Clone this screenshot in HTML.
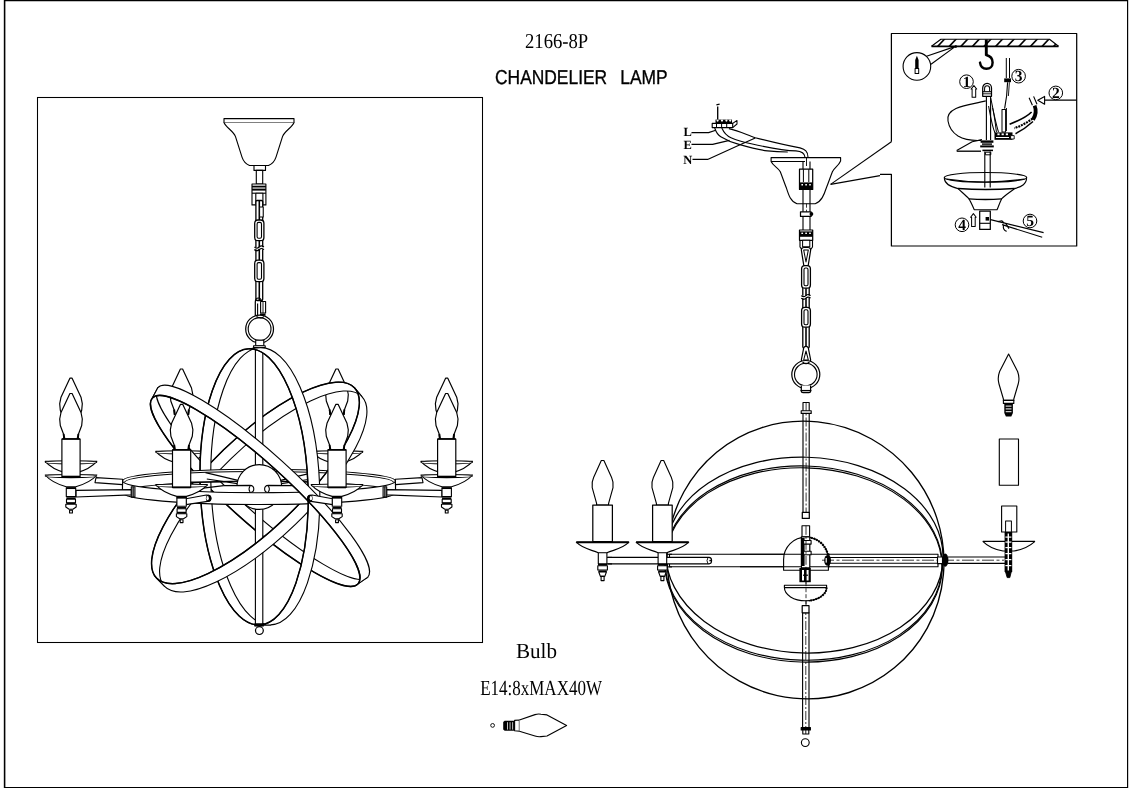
<!DOCTYPE html>
<html lang="en"><head><meta charset="utf-8"><title>2166-8P CHANDELIER LAMP</title>
<style>
html,body{margin:0;padding:0;background:#fff;}
body{width:1131px;height:788px;overflow:hidden;}
svg{display:block;will-change:transform;}
text{text-rendering:geometricPrecision;}
</style></head><body>
<svg width="1131" height="788" viewBox="0 0 1131 788" stroke-linejoin="round" stroke-linecap="butt">
<defs>
<clipPath id="c1"><polygon points="940.9,39.3 1049.5,39.3 1058.5,46.3 931.5,46.3"/></clipPath>
</defs>
<rect x="0" y="0" width="1131" height="788" fill="#fff"/>
<!-- frame -->
<path d="M4.6 0L4.6 788" stroke="#000" stroke-width="1.57" fill="none" />
<path d="M4 0.5L1128 0.5" stroke="#000" stroke-width="1.34" fill="none" />
<path d="M1127.6 0L1127.6 788" stroke="#000" stroke-width="1.18" fill="none" />
<path d="M4 787.5L1128 787.5" stroke="#000" stroke-width="1.12" fill="none" />
<rect x="37.5" y="97.5" width="445" height="545" fill="none" stroke="#000" stroke-width="1.06" stroke-linejoin="miter"/>
<!-- titles -->
<text transform="translate(525 47.9) scale(0.88 1)" font-family="'Liberation Serif',serif" font-size="21.2" font-weight="normal" word-spacing="0" letter-spacing="0" fill="#000" stroke="#000" stroke-width="0">2166-8P</text>
<text transform="translate(495 83.9) scale(0.87 1)" font-family="'Liberation Sans',sans-serif" font-size="20" font-weight="normal" word-spacing="9.5" letter-spacing="0" fill="#000" stroke="#000" stroke-width="0.35">CHANDELIER LAMP</text>
<text transform="translate(516 657.9) scale(0.98 1)" font-family="'Liberation Serif',serif" font-size="21.5" font-weight="normal" word-spacing="0" letter-spacing="0" fill="#000" stroke="#000" stroke-width="0">Bulb</text>
<text transform="translate(480.2 695.3) scale(0.79 1)" font-family="'Liberation Serif',serif" font-size="21.5" font-weight="normal" word-spacing="0" letter-spacing="0" fill="#000" stroke="#000" stroke-width="0">E14:8xMAX40W</text>
<!-- left drawing: perspective view -->
<path d="M224 118.6L294 118.6L294 122.5L224 122.5Z" fill="#fff" stroke="#000" stroke-width="1.12" />
<path d="M224 122.5 C226 127.6 233 130.6 235.5 136.6 L242 157.1 C243.5 161.6 246 164.1 249.5 165.5 L268.5 165.5 C272 164.1 274.5 161.6 276 157.1 L282.5 136.6 C285 130.6 292 127.6 294 122.5" fill="#fff" stroke="#000" stroke-width="1.12" />
<rect x="254" y="165.5" width="11.5" height="4.9" fill="#fff" stroke="#000" stroke-width="1.12" />
<rect x="256.3" y="170.4" width="6.4" height="13.6" fill="#fff" stroke="#000" stroke-width="1.12" />
<rect x="252" y="184" width="13.9" height="20.9" fill="#fff" stroke="#000" stroke-width="1.12" />
<path d="M252 186.6L265.9 186.6" stroke="#000" stroke-width="1.79" fill="none" />
<path d="M252 189.6L265.9 189.6" stroke="#000" stroke-width="2.02" fill="none" />
<path d="M252 193.2L265.9 193.2" stroke="#000" stroke-width="1.12" fill="none" />
<rect x="255.8" y="193.2" width="7.1" height="11.7" fill="#fff" stroke="#000" stroke-width="1.12" />
<rect x="255.9" y="200.5" width="6.8" height="22" rx="1.2" ry="1.2" fill="#fff" stroke="#000" stroke-width="1.3"/>
<path d="M259.3 200.5L259.3 222.5" stroke="#000" stroke-width="1.57" fill="none" />
<rect x="259.6" y="207" width="3.6" height="10" fill="#fff" stroke="#000" stroke-width="1.01" />
<rect x="255.9" y="238.5" width="6.8" height="24" rx="1.2" ry="1.2" fill="#fff" stroke="#000" stroke-width="1.3"/>
<path d="M259.3 238.5L259.3 262.5" stroke="#000" stroke-width="1.57" fill="none" />
<rect x="255.9" y="279.5" width="6.8" height="21" rx="1.2" ry="1.2" fill="#fff" stroke="#000" stroke-width="1.3"/>
<path d="M259.3 279.5L259.3 300.5" stroke="#000" stroke-width="1.57" fill="none" />
<rect x="254.7" y="220" width="9.2" height="20.6" rx="3.2" ry="3.2" fill="#fff" stroke="#000" stroke-width="1.3"/>
<rect x="257.1" y="222.4" width="4.4" height="15.8" rx="1.5" ry="1.5" fill="#fff" stroke="#000" stroke-width="1.1"/>
<rect x="254.7" y="260.2" width="9.2" height="21.4" rx="3.2" ry="3.2" fill="#fff" stroke="#000" stroke-width="1.3"/>
<rect x="257.1" y="262.6" width="4.4" height="16.6" rx="1.5" ry="1.5" fill="#fff" stroke="#000" stroke-width="1.1"/>
<path d="M254.5 249.5 q2.5 2.2 4.6 0 q2.5 -2.2 4.8 0" fill="none" stroke="#000" stroke-width="1.12" style="paint-order:stroke" />
<rect x="253.8" y="247.2" width="11" height="2" fill="#fff"/>
<path d="M254.5 247 q2.5 2.2 4.6 0 q2.5 -2.2 4.8 0" fill="none" stroke="#000" stroke-width="1.12" />
<path d="M254.5 249.6 q2.5 2.2 4.6 0 q2.5 -2.2 4.8 0" fill="none" stroke="#000" stroke-width="1.12" />
<path d="M255.3 318 L255.3 302 Q255.3 298 258.5 298 Q261 298 261.3 301" fill="none" stroke="#000" stroke-width="1.23" />
<path d="M257.6 318 L257.6 303.5" fill="none" stroke="#000" stroke-width="1.12" />
<rect x="260.6" y="301.5" width="5" height="11.5" fill="#fff" stroke="#000" stroke-width="1.12" />
<path d="M263 301.5L263 313" stroke="#000" stroke-width="0.9" fill="none" />
<path d="M260 314.6L265.5 314.6" stroke="#000" stroke-width="2.02" fill="none" />
<circle cx="259.6" cy="329" r="13.9" fill="#fff" stroke="#000" stroke-width="1.23"/>
<circle cx="259.6" cy="329" r="11.4" fill="#fff" stroke="#000" stroke-width="1.12"/>
<path d="M256.5 316.4 Q260 319.5 264 316.6" fill="none" stroke="#000" stroke-width="1.12" />
<rect x="255.7" y="340.2" width="8.1" height="5.5" fill="#fff" stroke="#000" stroke-width="1.12" />
<rect x="253.6" y="345.7" width="11.6" height="1.9" fill="#fff" stroke="#000" stroke-width="1.12" />
<path d="M155.7 451.3 C160.2 456.7 168.5 460.7 176.7 463.1 L186.3 463.1 C194.5 460.7 202.8 456.7 207.3 451.3 Z" fill="#fff" stroke="#000" stroke-width="1.12" />
<ellipse cx="181.5" cy="452.3" rx="25.8" ry="1.6" fill="#fff" stroke="#000" stroke-width="1.05"/>
<path d="M180.4 369L171.5 388L170.2 394.5L170.8 401L174 409.5L174.3 414.5L188.7 414.5L189 409.5L192.2 401L192.8 394.5L191.5 388L182.6 369Z" fill="#fff" stroke="#000" stroke-width="1.18" />
<path d="M174.1 409.5 L174.9 414.5 M188.9 409.5 L188.1 414.5" fill="none" stroke="#000" stroke-width="1.9" />
<path d="M311.2 451.3 C315.7 456.7 324 460.7 332.2 463.1 L341.8 463.1 C350 460.7 358.3 456.7 362.8 451.3 Z" fill="#fff" stroke="#000" stroke-width="1.12" />
<ellipse cx="337" cy="452.3" rx="25.8" ry="1.6" fill="#fff" stroke="#000" stroke-width="1.05"/>
<path d="M335.9 369L327 388L325.7 394.5L326.3 401L329.5 409.5L329.8 414.5L344.2 414.5L344.5 409.5L347.7 401L348.3 394.5L347 388L338.1 369Z" fill="#fff" stroke="#000" stroke-width="1.18" />
<path d="M329.6 409.5 L330.4 414.5 M344.4 409.5 L343.6 414.5" fill="none" stroke="#000" stroke-width="1.9" />
<path d="M358.04 583.87A138.6 29.5 42.1 0 1 235.42 512.84A138.6 29.5 42.1 0 1 152.36 398.03L157.93 387.55A141.4 28.6 42.1 0 0 243.68 503.57A141.4 28.6 42.1 0 0 367.77 577.15Z" fill="#fff" stroke="#000" stroke-width="1.12" />
<path d="M358.04 583.87A138.6 29.5 42.1 0 1 235.42 512.84A138.6 29.5 42.1 0 1 152.36 398.03" fill="none" stroke="#000" stroke-width="1.46" />
<path d="M354.38 387.7A137.3 45.9 -43.9 0 0 223.62 449.83A137.3 45.9 -43.9 0 0 156.52 578.1L164.61 586.43A136.9 46 -43.9 0 1 231.35 458.35A136.9 46 -43.9 0 1 361.89 396.57Z" fill="#fff" stroke="#000" stroke-width="1.12" />
<path d="M354.38 387.7A137.3 45.9 -43.9 0 0 223.62 449.83A137.3 45.9 -43.9 0 0 156.52 578.1" fill="none" stroke="#000" stroke-width="1.46" />
<path d="M259.41 625A138.2 53.9 87.8 0 1 200.24 488.97A138.2 53.9 87.8 0 1 248.79 348.8L259.98 347.7A138.7 54.3 87.8 0 0 211.04 488.38A138.7 54.3 87.8 0 0 270.62 624.9Z" fill="#fff" stroke="#000" stroke-width="1.12" />
<path d="M259.41 625A138.2 53.9 87.8 0 1 200.24 488.97A138.2 53.9 87.8 0 1 248.79 348.8" fill="none" stroke="#000" stroke-width="1.46" />
<path d="M122.5 481 A136.5 11.7 0 0 1 395.5 481 L395.5 492.8 A136.5 11.7 0 0 0 122.5 492.8 Z" fill="#fff" stroke="#000" stroke-width="1.12" />
<path d="M124.5 482.6 A134.5 11.1 0 0 1 393.5 482.6" fill="none" stroke="#000" stroke-width="1.01" />
<rect x="255.4" y="347.6" width="7.4" height="277.4" fill="#fff" stroke="#000" stroke-width="1.12" />
<path d="M238 480.4 L205.5 472.6 M237.4 483.6 L206.8 479 M226.7 482 L191 482" fill="none" stroke="#000" stroke-width="1.12" />
<path d="M280.6 480.4 L313 472.6 M281.2 483.6 L311.8 479 M292 482 L327 482" fill="none" stroke="#000" stroke-width="1.12" />
<circle cx="259.3" cy="487" r="22.4" fill="#fff" stroke="#000" stroke-width="1.23"/>
<path d="M223.8 485.6 L250 485.4 Q253.8 485.6 253.8 489 Q253.8 492.4 250 492.5 L223.8 492.5" fill="#fff" stroke="#000" stroke-width="1.12" />
<path d="M294.6 485.6 L268.4 485.4 Q264.6 485.6 264.6 489 Q264.6 492.4 268.4 492.5 L294.6 492.5" fill="#fff" stroke="#000" stroke-width="1.12" />
<path d="M250 486 Q248 489 250 492" fill="none" stroke="#000" stroke-width="1.01" />
<path d="M268.4 486 Q270.4 489 268.4 492" fill="none" stroke="#000" stroke-width="1.01" />
<path d="M223.8 485.6 L201 488.4 M223.8 492.5 L210 493" fill="none" stroke="#000" stroke-width="1.12" />
<path d="M294.6 485.6 L317 488.4 M294.6 492.5 L308 493" fill="none" stroke="#000" stroke-width="1.12" />
<path d="M361.89 396.57A136.9 46 -43.9 0 1 295.15 524.65A136.9 46 -43.9 0 1 164.61 586.43L156.52 578.1A137.3 45.9 -43.9 0 0 287.28 515.97A137.3 45.9 -43.9 0 0 354.38 387.7Z" fill="#fff" stroke="#000" stroke-width="1.12" />
<path d="M156.52 578.1A137.3 45.9 -43.9 0 0 287.28 515.97A137.3 45.9 -43.9 0 0 354.38 387.7" fill="none" stroke="#000" stroke-width="1.46" />
<path d="M122.5 481 A136.5 11.7 0 0 0 395.5 481 L395.5 492.8 A136.5 11.7 0 0 1 122.5 492.8 Z" fill="#fff" stroke="#000" stroke-width="1.12" />
<path d="M270.62 624.9A138.7 54.3 87.8 0 0 319.56 484.22A138.7 54.3 87.8 0 0 259.98 347.7L248.79 348.8A138.2 53.9 87.8 0 1 307.96 484.83A138.2 53.9 87.8 0 1 259.41 625Z" fill="#fff" stroke="#000" stroke-width="1.12" />
<path d="M248.79 348.8A138.2 53.9 87.8 0 1 307.96 484.83A138.2 53.9 87.8 0 1 259.41 625" fill="none" stroke="#000" stroke-width="1.46" />
<path d="M367.77 577.15A141.4 28.6 42.1 0 0 282.02 461.13A141.4 28.6 42.1 0 0 157.93 387.55L152.36 398.03A138.6 29.5 42.1 0 1 274.98 469.06A138.6 29.5 42.1 0 1 358.04 583.87Z" fill="#fff" stroke="#000" stroke-width="1.12" />
<path d="M152.36 398.03A138.6 29.5 42.1 0 1 274.98 469.06A138.6 29.5 42.1 0 1 358.04 583.87" fill="none" stroke="#000" stroke-width="1.46" />
<rect x="254.6" y="623.6" width="9" height="2.6" fill="#000" stroke="#000" stroke-width="0.67" />
<circle cx="259.4" cy="630.6" r="3.9" fill="#fff" stroke="#000" stroke-width="1.23"/>
<path d="M96 477.6 L122.6 479.2 L122.6 484.6 L95 482.6 Z" fill="#fff" stroke="#000" stroke-width="1.12" />
<path d="M76 490.4 L131.4 489.6 L131.4 494.9 L76 497 Z" fill="#fff" stroke="#000" stroke-width="1.12" />
<rect x="131.3" y="486.7" width="3.6" height="10.4" fill="#fff" stroke="#000" stroke-width="1.12" />
<path d="M133.1 487L133.1 497" stroke="#000" stroke-width="1.34" fill="none" />
<path d="M422 477.6 L395.4 479.2 L395.4 484.6 L423 482.6 Z" fill="#fff" stroke="#000" stroke-width="1.12" />
<path d="M442 490.4 L386.6 489.6 L386.6 494.9 L442 497 Z" fill="#fff" stroke="#000" stroke-width="1.12" />
<rect x="383.1" y="486.7" width="3.6" height="10.4" fill="#fff" stroke="#000" stroke-width="1.12" />
<path d="M384.9 487L384.9 497" stroke="#000" stroke-width="1.34" fill="none" />
<path d="M186 498.8 L206.4 495 Q211 495 211 498.3 Q211 501.4 207.6 501.4 L186 504.6 Z" fill="#fff" stroke="#000" stroke-width="1.12" />
<ellipse cx="208.6" cy="498.2" rx="2.7" ry="3.5" fill="#000"/>
<ellipse cx="207.6" cy="498.2" rx="1.2" ry="2.1" fill="#fff"/>
<path d="M332.5 498.8 L312.1 495 Q307.5 495 307.5 498.3 Q307.5 501.4 310.9 501.4 L332.5 504.6 Z" fill="#fff" stroke="#000" stroke-width="1.12" />
<ellipse cx="309.9" cy="498.2" rx="2.7" ry="3.5" fill="#000"/>
<ellipse cx="310.9" cy="498.2" rx="1.2" ry="2.1" fill="#fff"/>
<path d="M45.2 461.3 C49.7 466.7 58 470.7 66.2 473.1 L75.8 473.1 C84 470.7 92.3 466.7 96.8 461.3 Z" fill="#fff" stroke="#000" stroke-width="1.12" />
<ellipse cx="71" cy="462.3" rx="25.8" ry="1.6" fill="#fff" stroke="#000" stroke-width="1.05"/>
<path d="M69.9 378.2L61 397.2L59.7 403.7L60.3 410.2L63.5 418.7L63.8 423.7L78.2 423.7L78.5 418.7L81.7 410.2L82.3 403.7L81 397.2L72.1 378.2Z" fill="#fff" stroke="#000" stroke-width="1.18" />
<path d="M63.6 418.7 L64.4 423.7 M78.4 418.7 L77.6 423.7" fill="none" stroke="#000" stroke-width="1.9" />
<rect x="66.3" y="487.7" width="9.4" height="8.9" fill="#fff" stroke="#000" stroke-width="1.12" />
<path d="M66.1 488.2L75.9 488.2" stroke="#000" stroke-width="1.68" fill="none" />
<path d="M66.4 498.2L75.6 498.2" stroke="#000" stroke-width="1.68" fill="none" />
<rect x="66.5" y="499.2" width="9" height="3.6" fill="#fff" stroke="#000" stroke-width="1.12" />
<path d="M66.4 503.4L75.6 503.4" stroke="#000" stroke-width="1.46" fill="none" />
<path d="M65.8 504.2L76.2 504.2L76.2 507L72.9 509.2L69.1 509.2L65.8 507Z" fill="#fff" stroke="#000" stroke-width="1.12" />
<rect x="69.6" y="510.2" width="2.8" height="2.8" fill="#fff" stroke="#000" stroke-width="1.12" />
<path d="M45.2 475 C49.7 480.4 58 484.4 66.2 486.8 L75.8 486.8 C84 484.4 92.3 480.4 96.8 475 Z" fill="#fff" stroke="#000" stroke-width="1.12" />
<ellipse cx="71" cy="476" rx="25.8" ry="1.6" fill="#fff" stroke="#000" stroke-width="1.05"/>
<path d="M69.9 393.5L61 412.5L59.7 419L60.3 425.5L63.5 434L63.8 439L78.2 439L78.5 434L81.7 425.5L82.3 419L81 412.5L72.1 393.5Z" fill="#fff" stroke="#000" stroke-width="1.18" />
<path d="M63.6 434 L64.4 439 M78.4 434 L77.6 439" fill="none" stroke="#000" stroke-width="1.9" />
<rect x="61.9" y="439" width="18.2" height="37.6" fill="#fff" stroke="#000" stroke-width="1.18" />
<path d="M61.9 439L80.1 439" stroke="#000" stroke-width="1.57" fill="none" />
<path d="M61.9 476.6L80.1 476.6" stroke="#000" stroke-width="1.79" fill="none" />
<path d="M420.9 461.3 C425.4 466.7 433.7 470.7 441.9 473.1 L451.5 473.1 C459.7 470.7 468 466.7 472.5 461.3 Z" fill="#fff" stroke="#000" stroke-width="1.12" />
<ellipse cx="446.7" cy="462.3" rx="25.8" ry="1.6" fill="#fff" stroke="#000" stroke-width="1.05"/>
<path d="M445.6 378.2L436.7 397.2L435.4 403.7L436 410.2L439.2 418.7L439.5 423.7L453.9 423.7L454.2 418.7L457.4 410.2L458 403.7L456.7 397.2L447.8 378.2Z" fill="#fff" stroke="#000" stroke-width="1.18" />
<path d="M439.3 418.7 L440.1 423.7 M454.1 418.7 L453.3 423.7" fill="none" stroke="#000" stroke-width="1.9" />
<rect x="442" y="487.7" width="9.4" height="8.9" fill="#fff" stroke="#000" stroke-width="1.12" />
<path d="M441.8 488.2L451.6 488.2" stroke="#000" stroke-width="1.68" fill="none" />
<path d="M442.1 498.2L451.3 498.2" stroke="#000" stroke-width="1.68" fill="none" />
<rect x="442.2" y="499.2" width="9" height="3.6" fill="#fff" stroke="#000" stroke-width="1.12" />
<path d="M442.1 503.4L451.3 503.4" stroke="#000" stroke-width="1.46" fill="none" />
<path d="M441.5 504.2L451.9 504.2L451.9 507L448.6 509.2L444.8 509.2L441.5 507Z" fill="#fff" stroke="#000" stroke-width="1.12" />
<rect x="445.3" y="510.2" width="2.8" height="2.8" fill="#fff" stroke="#000" stroke-width="1.12" />
<path d="M420.9 475 C425.4 480.4 433.7 484.4 441.9 486.8 L451.5 486.8 C459.7 484.4 468 480.4 472.5 475 Z" fill="#fff" stroke="#000" stroke-width="1.12" />
<ellipse cx="446.7" cy="476" rx="25.8" ry="1.6" fill="#fff" stroke="#000" stroke-width="1.05"/>
<path d="M445.6 393.5L436.7 412.5L435.4 419L436 425.5L439.2 434L439.5 439L453.9 439L454.2 434L457.4 425.5L458 419L456.7 412.5L447.8 393.5Z" fill="#fff" stroke="#000" stroke-width="1.18" />
<path d="M439.3 434 L440.1 439 M454.1 434 L453.3 439" fill="none" stroke="#000" stroke-width="1.9" />
<rect x="437.6" y="439" width="18.2" height="37.6" fill="#fff" stroke="#000" stroke-width="1.18" />
<path d="M437.6 439L455.8 439" stroke="#000" stroke-width="1.57" fill="none" />
<path d="M437.6 476.6L455.8 476.6" stroke="#000" stroke-width="1.79" fill="none" />
<rect x="176.9" y="497.3" width="9.4" height="8.9" fill="#fff" stroke="#000" stroke-width="1.12" />
<path d="M176.7 497.8L186.5 497.8" stroke="#000" stroke-width="1.68" fill="none" />
<path d="M177 507.8L186.2 507.8" stroke="#000" stroke-width="1.68" fill="none" />
<rect x="177.1" y="508.8" width="9" height="3.6" fill="#fff" stroke="#000" stroke-width="1.12" />
<path d="M177 513L186.2 513" stroke="#000" stroke-width="1.46" fill="none" />
<path d="M176.4 513.8L186.8 513.8L186.8 516.6L183.5 518.8L179.7 518.8L176.4 516.6Z" fill="#fff" stroke="#000" stroke-width="1.12" />
<rect x="180.2" y="519.8" width="2.8" height="2.8" fill="#fff" stroke="#000" stroke-width="1.12" />
<path d="M155.8 484.6 C160.3 490 168.6 494 176.8 496.4 L186.4 496.4 C194.6 494 202.9 490 207.4 484.6 Z" fill="#fff" stroke="#000" stroke-width="1.12" />
<ellipse cx="181.6" cy="485.6" rx="25.8" ry="1.6" fill="#fff" stroke="#000" stroke-width="1.05"/>
<path d="M180.5 404.3L171.6 423.3L170.3 429.8L170.9 436.3L174.1 444.8L174.4 449.8L188.8 449.8L189.1 444.8L192.3 436.3L192.9 429.8L191.6 423.3L182.7 404.3Z" fill="#fff" stroke="#000" stroke-width="1.18" />
<path d="M174.2 444.8 L175 449.8 M189 444.8 L188.2 449.8" fill="none" stroke="#000" stroke-width="1.9" />
<rect x="172.5" y="449.8" width="18.2" height="37.6" fill="#fff" stroke="#000" stroke-width="1.18" />
<path d="M172.5 449.8L190.7 449.8" stroke="#000" stroke-width="1.57" fill="none" />
<path d="M172.5 487.4L190.7 487.4" stroke="#000" stroke-width="1.79" fill="none" />
<rect x="332.3" y="497.3" width="9.4" height="8.9" fill="#fff" stroke="#000" stroke-width="1.12" />
<path d="M332.1 497.8L341.9 497.8" stroke="#000" stroke-width="1.68" fill="none" />
<path d="M332.4 507.8L341.6 507.8" stroke="#000" stroke-width="1.68" fill="none" />
<rect x="332.5" y="508.8" width="9" height="3.6" fill="#fff" stroke="#000" stroke-width="1.12" />
<path d="M332.4 513L341.6 513" stroke="#000" stroke-width="1.46" fill="none" />
<path d="M331.8 513.8L342.2 513.8L342.2 516.6L338.9 518.8L335.1 518.8L331.8 516.6Z" fill="#fff" stroke="#000" stroke-width="1.12" />
<rect x="335.6" y="519.8" width="2.8" height="2.8" fill="#fff" stroke="#000" stroke-width="1.12" />
<path d="M311.2 484.6 C315.7 490 324 494 332.2 496.4 L341.8 496.4 C350 494 358.3 490 362.8 484.6 Z" fill="#fff" stroke="#000" stroke-width="1.12" />
<ellipse cx="337" cy="485.6" rx="25.8" ry="1.6" fill="#fff" stroke="#000" stroke-width="1.05"/>
<path d="M335.9 404.3L327 423.3L325.7 429.8L326.3 436.3L329.5 444.8L329.8 449.8L344.2 449.8L344.5 444.8L347.7 436.3L348.3 429.8L347 423.3L338.1 404.3Z" fill="#fff" stroke="#000" stroke-width="1.18" />
<path d="M329.6 444.8 L330.4 449.8 M344.4 444.8 L343.6 449.8" fill="none" stroke="#000" stroke-width="1.9" />
<rect x="327.9" y="449.8" width="18.2" height="37.6" fill="#fff" stroke="#000" stroke-width="1.18" />
<path d="M327.9 449.8L346.1 449.8" stroke="#000" stroke-width="1.57" fill="none" />
<path d="M327.9 487.4L346.1 487.4" stroke="#000" stroke-width="1.79" fill="none" />
<!-- right drawing: assembly / side view -->
<path d="M728.9 128.6 C740 131 748 135.5 755.3 137.7 C772 142 790 146 800 147.9 C805 149.5 808 151 808 157.3" fill="none" stroke="#000" stroke-width="1.12" />
<path d="M721.8 128 C724 133 727 136 731 137.7 C738 140.8 745 142.5 751.2 143.8 C768 147.5 785 150.6 795.9 150.9 C801 151.2 804.6 152.6 805 157.3" fill="none" stroke="#000" stroke-width="1.12" />
<path d="M714.7 128 C716 132 718 135 720.8 136.7 C727 140.5 733 142.8 739 144.4 C750 147.6 760 150 767.5 150.9 C775 151.8 782 152 787.8 152" fill="none" stroke="#000" stroke-width="1.12" />
<rect x="712.2" y="123.4" width="20.5" height="4.2" fill="#fff" stroke="#000" stroke-width="1.12" />
<path d="M716.5 123.4L716.5 127.6" stroke="#000" stroke-width="1.01" fill="none" />
<path d="M721.6 123.4L721.6 127.6" stroke="#000" stroke-width="1.01" fill="none" />
<path d="M726.7 123.4L726.7 127.6" stroke="#000" stroke-width="1.01" fill="none" />
<path d="M732.7 123.4 L737 120.5 L737 124 L732.7 127.6" fill="none" stroke="#000" stroke-width="1.01" />
<path d="M715.5 119.6h16.5v3.6h-16.5z" fill="#000"/>
<circle cx="717.6" cy="120.6" r="1.1" fill="#fff"/>
<circle cx="722" cy="120.6" r="1.1" fill="#fff"/>
<circle cx="726.4" cy="120.6" r="1.1" fill="#fff"/>
<circle cx="730.2" cy="120.6" r="1.1" fill="#fff"/>
<path d="M717.7 106.5L717.7 119.5" stroke="#000" stroke-width="1.34" fill="none" />
<path d="M716.4 104.8L719.6 104.2" stroke="#000" stroke-width="1.34" fill="none" />
<text x="683.6" y="135.8" font-family="'Liberation Serif',serif" font-size="12.5" font-weight="bold" text-anchor="start" >L</text>
<text x="683.6" y="149" font-family="'Liberation Serif',serif" font-size="12.5" font-weight="bold" text-anchor="start" >E</text>
<text x="683.2" y="164" font-family="'Liberation Serif',serif" font-size="12.5" font-weight="bold" text-anchor="start" >N</text>
<path d="M691.5 132.6 L708.6 132.6 L715.7 130.2" fill="none" stroke="#000" stroke-width="1.12" />
<path d="M691.5 144.4 L712.6 144.4 L729.5 140.4" fill="none" stroke="#000" stroke-width="1.12" />
<path d="M692.5 159.4 L707.6 159.4 L740 144.8 L755.3 138" fill="none" stroke="#000" stroke-width="1.12" />
<path d="M771.1 157.6 L840.6 157.6 L840.6 161 C838.5 166 834 168 832.4 171.8 C830 178 828.3 183 826.3 188 C824 195 821.5 201.5 815.2 203.7 L797 203.7 C790.6 201.5 788.6 195 786.4 188 C784.4 183 782.7 178 780.3 171.8 C778.7 168 773 166 771.1 161.5 Z" fill="#fff" stroke="#000" stroke-width="1.12" />
<path d="M771.1 161.5L805 161.5" stroke="#000" stroke-width="1.12" fill="none" />
<path d="M830.6 184.4L891.4 141.8" stroke="#000" stroke-width="1.12" fill="none" />
<path d="M830.6 184.4L880 175.6" stroke="#000" stroke-width="1.12" fill="none" />
<path d="M803 161.5L803 230" stroke="#000" stroke-width="1.12" fill="none" />
<path d="M810 161.5L810 230" stroke="#000" stroke-width="1.12" fill="none" />
<path d="M806.5 157.6L806.5 166" stroke="#000" stroke-width="0.9" fill="none" />
<rect x="799.5" y="169.2" width="13.2" height="20.3" fill="#fff" stroke="#000" stroke-width="1.23" />
<path d="M803.4 169.2L803.4 182" stroke="#000" stroke-width="1.01" fill="none" />
<path d="M808.8 169.2L808.8 182" stroke="#000" stroke-width="1.01" fill="none" />
<rect x="799.5" y="182.4" width="13.2" height="7.1" fill="#000"/>
<rect x="801.4" y="184" width="1.6" height="1.5" fill="#fff"/>
<rect x="805.3" y="184" width="1.6" height="1.5" fill="#fff"/>
<rect x="809.2" y="184" width="1.6" height="1.5" fill="#fff"/>
<path d="M799.5 186.6L812.7 186.6" stroke="#000" stroke-width="0.78" fill="none" stroke="#fff"/>
<path d="M806.5 203.7L806.5 212" stroke="#000" stroke-width="0.78" fill="none" stroke-dasharray="4 2"/>
<rect x="800.5" y="211.8" width="10.6" height="4.6" fill="#fff" stroke="#000" stroke-width="1.23" />
<circle cx="811.4" cy="214" r="1.9" fill="#000"/>
<rect x="799.5" y="230" width="13.2" height="10.3" fill="#fff" stroke="#000" stroke-width="1.23" />
<rect x="799.5" y="231.4" width="13.2" height="5.4" fill="#000"/>
<rect x="801.35" y="232.6" width="1.7" height="1.4" fill="#fff"/>
<rect x="805.25" y="232.6" width="1.7" height="1.4" fill="#fff"/>
<rect x="809.15" y="232.6" width="1.7" height="1.4" fill="#fff"/>
<path d="M799.5 234.9L812.7 234.9" stroke="#000" stroke-width="0.78" fill="none" stroke="#fff"/>
<path d="M800 240.3 L800 247 L802.5 250.5 M812.5 240.3 L812.5 247 L810 250.5" fill="none" stroke="#000" stroke-width="1.12" />
<rect x="802.6" y="240.3" width="7.2" height="6.5" fill="#fff" stroke="#000" stroke-width="1.01" />
<rect x="802.8" y="286" width="6.4" height="23" rx="1.2" ry="1.2" fill="#fff" stroke="#000" stroke-width="1.3"/>
<path d="M806 286L806 309" stroke="#000" stroke-width="1.57" fill="none" />
<rect x="802.8" y="325.5" width="6.4" height="22.5" rx="1.2" ry="1.2" fill="#fff" stroke="#000" stroke-width="1.3"/>
<path d="M806 325.5L806 348" stroke="#000" stroke-width="1.57" fill="none" />
<path d="M803.8 265.5 Q806 267.7 808.2 265.5 L810.6 250.5 Q810.8 247.5 808 247.5 L804 247.5 Q801.2 247.5 801.4 250.5 Z" fill="#fff" stroke="#000" stroke-width="1.23" />
<path d="M806 262 L808.3 250.1 L803.7 250.1 Z" fill="#fff" stroke="#000" stroke-width="1.01" />
<rect x="801.6" y="265.6" width="8.8" height="22.6" rx="3.2" ry="3.2" fill="#fff" stroke="#000" stroke-width="1.3"/>
<rect x="804" y="268" width="4" height="17.8" rx="1.5" ry="1.5" fill="#fff" stroke="#000" stroke-width="1.1"/>
<rect x="801.6" y="307.4" width="8.8" height="19.8" rx="3.2" ry="3.2" fill="#fff" stroke="#000" stroke-width="1.3"/>
<rect x="804" y="309.8" width="4" height="15" rx="1.5" ry="1.5" fill="#fff" stroke="#000" stroke-width="1.1"/>
<rect x="800.5" y="295.8" width="11" height="2.2" fill="#fff"/>
<path d="M801.2 295.6 q2.5 2.2 4.6 0 q2.5 -2.2 4.8 0" fill="none" stroke="#000" stroke-width="1.12" />
<path d="M801.2 298.2 q2.5 2.2 4.6 0 q2.5 -2.2 4.8 0" fill="none" stroke="#000" stroke-width="1.12" />
<path d="M803.8 347.5 Q806 345.3 808.2 347.5 L810.6 359.5 Q810.8 362.5 808 362.5 L804 362.5 Q801.2 362.5 801.4 359.5 Z" fill="#fff" stroke="#000" stroke-width="1.23" />
<path d="M806 351 L808.3 359.9 L803.7 359.9 Z" fill="#fff" stroke="#000" stroke-width="1.01" />
<circle cx="805.8" cy="374.5" r="14" fill="#fff" stroke="#000" stroke-width="1.23"/>
<circle cx="805.8" cy="374.5" r="11.3" fill="#fff" stroke="#000" stroke-width="1.12"/>
<path d="M802.6 362 Q806 365.5 809.4 362" fill="none" stroke="#000" stroke-width="1.12" />
<path d="M801.3 385.4 L801.3 391 Q801.3 392.6 803 392.6 L809 392.6 Q810.6 392.6 810.6 391 L810.6 385.4" fill="#fff" stroke="#000" stroke-width="1.23" />
<path d="M800.5 390.6L811.4 390.6" stroke="#000" stroke-width="1.34" fill="none" />
<ellipse cx="805.5" cy="560.05" rx="139.7" ry="137.6" fill="none" stroke="#000" stroke-width="1.34" transform="rotate(50.5 805.5 560.05)"/>
<ellipse cx="804.4" cy="555.1" rx="138.7" ry="97.9" fill="none" stroke="#000" stroke-width="1.23" transform="rotate(1.66 804.4 555.1)"/>
<ellipse cx="803.5" cy="564" rx="139" ry="98.1" fill="none" stroke="#000" stroke-width="1.12" transform="rotate(1.67 803.5 564)"/>
<ellipse cx="803.5" cy="564" rx="138.4" ry="96.2" fill="none" stroke="#000" stroke-width="1.12" transform="rotate(1.67 803.5 564)"/>
<rect x="803" y="402.5" width="6.2" height="110" fill="none" stroke="#000" stroke-width="1.12" />
<path d="M806.1 402.5L806.1 512.5" stroke="#000" stroke-width="0.78" fill="none" stroke-dasharray="9 2 2 2"/>
<rect x="801.2" y="410.8" width="10" height="2.6" fill="#fff" stroke="#000" stroke-width="1.12" />
<rect x="802.3" y="512.4" width="7" height="6" fill="#fff" stroke="#000" stroke-width="1.23" />
<rect x="802.6" y="612.8" width="6.4" height="115" fill="none" stroke="#000" stroke-width="1.12" />
<path d="M805.8 606L805.8 727.8" stroke="#000" stroke-width="0.78" fill="none" stroke-dasharray="9 2 2 2"/>
<rect x="802.2" y="605.7" width="6.8" height="7.1" fill="#fff" stroke="#000" stroke-width="1.23" />
<rect x="801.2" y="727.6" width="9.2" height="2.4" fill="#000" stroke="#000" stroke-width="1.12" />
<rect x="802.8" y="730" width="6" height="4" fill="#fff" stroke="#000" stroke-width="1.12" />
<path d="M805.8 730L805.8 734" stroke="#000" stroke-width="0.9" fill="none" />
<circle cx="805.3" cy="742.6" r="3.9" fill="#fff" stroke="#000" stroke-width="1.12"/>
<rect x="669.5" y="554.3" width="160" height="12.4" fill="#fff" stroke="#000" stroke-width="1.12" />
<path d="M607.6 557.4 L709 557.4 Q711.6 557.4 711.6 560.6 Q711.6 563.9 709 563.9 L607.6 563.9" fill="#fff" stroke="#000" stroke-width="1.12" />
<path d="M708 557.4 Q706 560.6 708 563.9" fill="none" stroke="#000" stroke-width="0.9" />
<circle cx="710.2" cy="560.6" r="0.9" fill="#000"/>
<path d="M783.6 570.2 L783.6 559.5 A22.4 22.4 0 0 1 828.4 559.5 L828.4 570.2 Z" fill="#fff" stroke="#000" stroke-width="1.12" />
<path d="M806 537.2 A22.4 22.4 0 0 1 828.4 559.5" fill="none" stroke="#000" stroke-width="2.24" stroke-dasharray="1.6 1"/>
<path d="M740 554.3L829 554.3" stroke="#000" stroke-width="1.12" fill="none" />
<path d="M740 566.7L829 566.7" stroke="#000" stroke-width="1.12" fill="none" />
<rect x="829" y="554.3" width="109" height="12.4" fill="#fff" stroke="#000" stroke-width="1.12" />
<path d="M829 557.5L938 557.5" stroke="#000" stroke-width="1.12" fill="none" />
<path d="M829 563.2L938 563.2" stroke="#000" stroke-width="1.12" fill="none" />
<path d="M822 560.2L1004 560.2" stroke="#000" stroke-width="0.78" fill="none" stroke-dasharray="12 2.5 3 2.5"/>
<ellipse cx="827.6" cy="560.4" rx="3.4" ry="5.4" fill="#000"/>
<rect x="825.6" y="558" width="1.2" height="4.6" fill="#fff"/>
<rect x="937.5" y="557" width="5" height="6.6" fill="#fff" stroke="#000" stroke-width="1.12" />
<ellipse cx="945.2" cy="560.2" rx="3.2" ry="6.6" fill="#000"/>
<path d="M948 557 L1005 557 M948 563.4 L1005 563.4" fill="none" stroke="#000" stroke-width="1.12" />
<rect x="802" y="525.8" width="7.6" height="11" fill="#fff" stroke="#000" stroke-width="1.12" />
<rect x="801.4" y="536.8" width="8.4" height="31" fill="#fff" stroke="#000" stroke-width="1.2"/>
<rect x="801.6" y="538" width="3" height="28" fill="#000"/>
<rect x="803.6" y="540.5" width="7.5" height="3.6" fill="#fff" stroke="#000" stroke-width="1.12" />
<rect x="803.6" y="551.2" width="7.5" height="3.6" fill="#fff" stroke="#000" stroke-width="1.12" />
<path d="M806 525.8L806 606" stroke="#000" stroke-width="0.78" fill="none" stroke-dasharray="9 2 2 2"/>
<rect x="799.4" y="568" width="11.4" height="14.2" fill="#000"/>
<rect x="802" y="570" width="2" height="10.5" fill="#fff"/>
<rect x="806.6" y="570" width="2" height="10.5" fill="#fff"/>
<rect x="803" y="574.6" width="5" height="1.2" fill="#000"/>
<path d="M784.4 585.3 L826.6 585.3 L826.6 587.6 A21.1 13.2 0 0 1 784.4 587.6 Z" fill="#fff" stroke="#000" stroke-width="1.12" />
<path d="M784.4 587.6L826.6 587.6" stroke="#000" stroke-width="1.12" fill="none" />
<path d="M826.6 587.6 A21.1 13.2 0 0 1 809 600.7" fill="none" stroke="#000" stroke-width="2.02" stroke-dasharray="1.6 1"/>
<path d="M806 582.2L806 606" stroke="#000" stroke-width="0.78" fill="none" stroke-dasharray="4 2"/>
<rect x="598.3" y="552.2" width="8.6" height="11.6" fill="#fff" stroke="#000" stroke-width="1.12" />
<path d="M598 564.8L607.2 564.8" stroke="#000" stroke-width="1.68" fill="none" />
<rect x="597.8" y="565.8" width="9.6" height="4.2" fill="#fff" stroke="#000" stroke-width="1.12" />
<path d="M598.4 571.2L606.8 571.2" stroke="#000" stroke-width="1.57" fill="none" />
<path d="M598.8 572 L606.4 572 L604.8 576.4 L600.4 576.4 Z" fill="#fff" stroke="#000" stroke-width="1.12" />
<rect x="601.1" y="576.4" width="3" height="4.2" fill="#fff" stroke="#000" stroke-width="1.12" />
<path d="M576.3 542.2 Q581.3 547.2 591.6 550.4 Q596.1 551.8 598.3 552.7 L606.9 552.7 Q609.1 551.8 613.6 550.4 Q623.9 547.2 628.9 542.2 Z" fill="#fff" stroke="#000" stroke-width="1.12" />
<path d="M576.3 542.2L628.9 542.2" stroke="#000" stroke-width="2.13" fill="none" />
<path d="M601.3 460.5 L593.6 477.5 Q591.4 482.1 592.2 487.6 L596.6 503.3 L596.6 505.1 L608.6 505.1 L608.6 503.3 L613 487.6 Q613.8 482.1 611.6 477.5 L603.9 460.5 Z" fill="#fff" stroke="#000" stroke-width="1.12" />
<rect x="592.8" y="505.1" width="19.6" height="36.6" fill="#fff" stroke="#000" stroke-width="1.23" />
<rect x="658.1" y="552.2" width="8.6" height="11.6" fill="#fff" stroke="#000" stroke-width="1.12" />
<path d="M657.8 564.8L667 564.8" stroke="#000" stroke-width="1.68" fill="none" />
<rect x="657.6" y="565.8" width="9.6" height="4.2" fill="#fff" stroke="#000" stroke-width="1.12" />
<path d="M658.2 571.2L666.6 571.2" stroke="#000" stroke-width="1.57" fill="none" />
<path d="M658.6 572 L666.2 572 L664.6 576.4 L660.2 576.4 Z" fill="#fff" stroke="#000" stroke-width="1.12" />
<rect x="660.9" y="576.4" width="3" height="4.2" fill="#fff" stroke="#000" stroke-width="1.12" />
<path d="M636.1 542.2 Q641.1 547.2 651.4 550.4 Q655.9 551.8 658.1 552.7 L666.7 552.7 Q668.9 551.8 673.4 550.4 Q683.7 547.2 688.7 542.2 Z" fill="#fff" stroke="#000" stroke-width="1.12" />
<path d="M636.1 542.2L688.7 542.2" stroke="#000" stroke-width="2.13" fill="none" />
<path d="M661.1 460.5 L653.4 477.5 Q651.2 482.1 652 487.6 L656.4 503.3 L656.4 505.1 L668.4 505.1 L668.4 503.3 L672.8 487.6 Q673.6 482.1 671.4 477.5 L663.7 460.5 Z" fill="#fff" stroke="#000" stroke-width="1.12" />
<rect x="652.6" y="505.1" width="19.6" height="36.6" fill="#fff" stroke="#000" stroke-width="1.23" />
<path d="M607 557.4L612 557.4" stroke="#000" stroke-width="1.12" fill="none" />
<path d="M607 563.9L612 563.9" stroke="#000" stroke-width="1.12" fill="none" />
<path d="M666.8 554.3L672 554.3" stroke="#000" stroke-width="1.12" fill="none" />
<path d="M666.8 566.9L672 566.9" stroke="#000" stroke-width="1.12" fill="none" />
<path d="M1008.6 354 L999.6 371.5 Q997.2 378 999 384 L1003.4 399 L1003.4 400.4 L1013.8 400.4 L1013.8 399 L1018.2 384 Q1020 378 1017.6 371.5 Z" fill="#fff" stroke="#000" stroke-width="1.12" />
<rect x="1003.4" y="400.4" width="10.4" height="3" fill="#fff" stroke="#000" stroke-width="1.12" />
<path d="M1004.3 403.4h8.6v9.6l-1.6 3.4h-5.4l-1.6-3.4z" fill="#000"/>
<rect x="1005.7" y="405.6" width="5.8" height="1" fill="#fff"/>
<rect x="1005.7" y="408.4" width="5.8" height="1" fill="#fff"/>
<rect x="1005.7" y="411.2" width="5.8" height="1" fill="#fff"/>
<rect x="999.3" y="439" width="19.2" height="46.2" fill="#fff" stroke="#000" stroke-width="1.12" />
<rect x="1001.6" y="506" width="15.2" height="26" fill="#fff" stroke="#000" stroke-width="1.12" />
<rect x="1005.6" y="521" width="5.8" height="11" fill="#fff" stroke="#000" stroke-width="1.01" />
<path d="M982.8 541.3 Q990 548.6 1003 551 L1014 551 Q1027 548.6 1035 541.3" fill="none" stroke="#000" stroke-width="1.12" />
<path d="M982.8 541.3L1035 541.3" stroke="#000" stroke-width="1.34" fill="none" />
<rect x="1004.6" y="532" width="7.6" height="40" fill="#000"/>
<rect x="1007.6" y="533.5" width="1.4" height="37" fill="#fff"/>
<rect x="1005.4" y="536.5" width="6" height="1.2" fill="#fff"/>
<rect x="1005.4" y="541.5" width="6" height="1.2" fill="#fff"/>
<rect x="1005.4" y="547" width="6" height="1.2" fill="#fff"/>
<rect x="1005.4" y="553" width="6" height="1.2" fill="#fff"/>
<rect x="1005.4" y="559" width="6" height="1.2" fill="#fff"/>
<rect x="1005.4" y="565" width="6" height="1.2" fill="#fff"/>
<path d="M1005.6 572 L1011.2 572 L1009.8 577.6 L1007.2 577.6 Z" fill="#000" stroke="#000" stroke-width="0.9" />
<circle cx="492.6" cy="725.4" r="1.9" fill="#fff" stroke="#000" stroke-width="0.9"/>
<path d="M503.2 722l1.5-1.2h9.6v10h-9.6l-1.5-1.2z" fill="#000"/>
<rect x="507" y="722.2" width="0.9" height="7.4" fill="#fff" opacity="0.85"/>
<rect x="509.6" y="722.2" width="0.9" height="7.4" fill="#fff" opacity="0.85"/>
<rect x="512.2" y="722.2" width="0.9" height="7.4" fill="#fff" opacity="0.85"/>
<path d="M514.6 720.4 L519.4 720 L519.4 731.2 L514.6 730.8 Z" fill="#fff" stroke="#000" stroke-width="1.12" />
<path d="M519.4 720 L535 714.6 Q538 713.6 541 714.2 L547 714.9 L566.6 725.6 L547 736 L541 736.6 Q538 737 535 736 L519.4 731.2" fill="#fff" stroke="#000" stroke-width="1.12" />
<!-- inset: ceiling mounting detail -->
<path d="M891.4 141.8 L891.4 33.5 L1076.7 33.5 L1076.7 246 L891.4 246 L891.4 174.4 L880 174.4" fill="none" stroke="#000" stroke-width="1.23" />
<g clip-path="url(#c1)">
<path d="M925 47.5L933.5 38.5" stroke="#000" stroke-width="1.68" fill="none" stroke="#444"/>
<path d="M936.6 47.5L945.1 38.5" stroke="#000" stroke-width="1.68" fill="none" stroke="#444"/>
<path d="M948.2 47.5L956.7 38.5" stroke="#000" stroke-width="1.68" fill="none" stroke="#444"/>
<path d="M959.8 47.5L968.3 38.5" stroke="#000" stroke-width="1.68" fill="none" stroke="#444"/>
<path d="M971.4 47.5L979.9 38.5" stroke="#000" stroke-width="1.68" fill="none" stroke="#444"/>
<path d="M983 47.5L991.5 38.5" stroke="#000" stroke-width="1.68" fill="none" stroke="#444"/>
<path d="M994.6 47.5L1003.1 38.5" stroke="#000" stroke-width="1.68" fill="none" stroke="#444"/>
<path d="M1006.2 47.5L1014.7 38.5" stroke="#000" stroke-width="1.68" fill="none" stroke="#444"/>
<path d="M1017.8 47.5L1026.3 38.5" stroke="#000" stroke-width="1.68" fill="none" stroke="#444"/>
<path d="M1029.4 47.5L1037.9 38.5" stroke="#000" stroke-width="1.68" fill="none" stroke="#444"/>
<path d="M1041 47.5L1049.5 38.5" stroke="#000" stroke-width="1.68" fill="none" stroke="#444"/>
<path d="M1052.6 47.5L1061.1 38.5" stroke="#000" stroke-width="1.68" fill="none" stroke="#444"/>
</g>
<path d="M931.5 46.3 L940.9 39.3 L1049.5 39.3 L1058.5 46.3" fill="none" stroke="#000" stroke-width="1.12" />
<path d="M931.5 46.3L1058.5 46.3" stroke="#000" stroke-width="1.79" fill="none" />
<path d="M986.3 39.5 L986.3 55.5" fill="none" stroke="#000" stroke-width="2.91" />
<path d="M986.3 55 C990 56 992.6 58.6 992.6 62.4 C992.6 66.4 990 68.8 986.4 68.8 C983 68.8 980.6 66.6 980 62.6" fill="none" stroke="#000" stroke-width="2.46" stroke-linecap="round"/>
<path d="M925.8 56.5 L955.5 46.4 L931 64.2" fill="none" stroke="#000" stroke-width="1.12" />
<circle cx="916.9" cy="66.4" r="13.8" fill="#fff" stroke="#000" stroke-width="1.1"/>
<path d="M916.9 55.8l1.7 4.2v8.4h-3.4v-8.4z" fill="#000"/>
<rect x="915.1" y="68.4" width="3.6" height="5" fill="#fff" stroke="#000" stroke-width="1.01" />
<circle cx="955.8" cy="46.6" r="1.3" fill="#000"/>
<circle cx="966.5" cy="81.7" r="6.8" fill="#fff" stroke="#000" stroke-width="1"/>
<text x="966.5" y="86.8" font-family="'Liberation Serif',serif" font-size="15.5" font-weight="bold" text-anchor="middle" >1</text>
<path d="M973.9 85.5 L976.7 89.1 L975.7 89.1 L975.7 97.3 L972.1 97.3 L972.1 89.1 L971.1 89.1 Z" fill="#fff" stroke="#000" stroke-width="1.01" />
<path d="M982.7 96.3 L982.7 88 A4.4 4.6 0 0 1 991.5 88 L991.5 96.3 Z" fill="#fff" stroke="#000" stroke-width="1.23" />
<path d="M984.6 91.6 L984.6 88.6 A2.5 2.8 0 0 1 989.6 88.6 L989.6 91.6" fill="none" stroke="#000" stroke-width="1.01" />
<path d="M982.7 91.7L991.5 91.7" stroke="#000" stroke-width="1.12" fill="none" />
<path d="M982.7 93.8L991.5 93.8" stroke="#000" stroke-width="0.9" fill="none" />
<path d="M986.4 96.3L986.4 140" stroke="#000" stroke-width="1.12" fill="none" />
<path d="M990.6 96.3L990.6 140" stroke="#000" stroke-width="1.12" fill="none" />
<path d="M985.8 100.9 C976 103.6 966 104.2 956 108.4 C949.5 111.4 947 116 948 121 C949 127 952.5 132.5 958 136 C964 139.6 972 140.8 981 140.4" fill="none" stroke="#000" stroke-width="1.12" />
<path d="M990.7 98 C993 108 995 120 996.4 132" fill="none" stroke="#000" stroke-width="1.01" />
<path d="M988.6 106 C990.4 116 992 126 995 133" fill="none" stroke="#000" stroke-width="1.01" />
<path d="M992.6 108 C994.5 116 996 124 998.5 132" fill="none" stroke="#000" stroke-width="1.01" />
<path d="M1006.3 58L1006.3 78" stroke="#000" stroke-width="1.01" fill="none" />
<path d="M1009.5 58L1009.5 78" stroke="#000" stroke-width="1.01" fill="none" />
<rect x="1004.2" y="78.4" width="6.8" height="3.8" fill="#000"/>
<path d="M1007.6 82.2 L1006.6 96 L1004.6 108.6" fill="none" stroke="#000" stroke-width="1.12" />
<path d="M1009.4 82.2 L1008.4 96" fill="none" stroke="#000" stroke-width="0.9" />
<rect x="1002" y="109.6" width="3.6" height="22.4" fill="#fff" stroke="#000" stroke-width="1.01" />
<path d="M1006.5 108L1006.5 131" stroke="#000" stroke-width="0.9" fill="none" />
<circle cx="1018.6" cy="76.2" r="6.8" fill="#fff" stroke="#000" stroke-width="1"/>
<text x="1018.6" y="81.3" font-family="'Liberation Serif',serif" font-size="15.5" font-weight="bold" text-anchor="middle" >3</text>
<rect x="994.5" y="132.4" width="18" height="7.4" fill="#000"/>
<rect x="997.4" y="133.4" width="2.2" height="1.8" fill="#fff"/>
<rect x="1001.6" y="133.4" width="2.2" height="1.8" fill="#fff"/>
<rect x="1005.8" y="133.4" width="2.2" height="1.8" fill="#fff"/>
<rect x="1010.6" y="135.6" width="3.6" height="3.4" fill="#fff" stroke="#000" stroke-width="0.9" />
<rect x="996" y="137" width="13" height="1" fill="#fff"/>
<path d="M1029.1 97.8 L1032.4 105.3 M1033.6 96.4 L1037 104.2" fill="none" stroke="#000" stroke-width="1.12" />
<path d="M1034.6 105.6 C1036.4 110 1036 115 1033 119.6" fill="none" stroke="#000" stroke-width="3.81" />
<path d="M1034.6 106.5 C1036 110 1035.6 114.6 1033.2 118.6" fill="none" stroke="#000" stroke-width="1.12" stroke="#fff" stroke-dasharray="1.2 1.6"/>
<path d="M1031.6 112 C1026 117.5 1018 121 1009.6 124.2" fill="none" stroke="#000" stroke-width="1.68" />
<path d="M1032.6 118.6 C1027 122.6 1021 126 1014.3 128.2" fill="none" stroke="#000" stroke-width="2.13" stroke-dasharray="2 0.9"/>
<path d="M1033 121.5 C1028 126 1022 130.5 1015.5 133.7" fill="none" stroke="#000" stroke-width="1.57" />
<path d="M1044.6 100.1L1076.7 100.1" stroke="#000" stroke-width="1.12" fill="none" />
<path d="M1037.8 100.3 L1044.6 96.4 L1044.6 104.2 Z" fill="#fff" stroke="#000" stroke-width="1.12" />
<circle cx="1055.8" cy="92.9" r="6.8" fill="#fff" stroke="#000" stroke-width="1"/>
<text x="1055.8" y="98" font-family="'Liberation Serif',serif" font-size="15.5" font-weight="bold" text-anchor="middle" >2</text>
<path d="M956.7 150.6 L972.2 141.8 L982 139.6" fill="none" stroke="#000" stroke-width="1.12" />
<path d="M956.7 151.2L981 151.2" stroke="#000" stroke-width="1.34" fill="none" />
<rect x="980.6" y="140.4" width="12.8" height="2.4" fill="#000"/>
<rect x="982" y="143.4" width="10" height="1.4" fill="#000"/>
<rect x="980.2" y="145.4" width="13.6" height="2" fill="#000"/>
<path d="M982.4 150.4L993 150.4" stroke="#000" stroke-width="1.57" fill="none" />
<rect x="985.4" y="152.2" width="5.4" height="2.6" fill="#fff" stroke="#000" stroke-width="1"/>
<path d="M984.8 151.5L984.8 187" stroke="#000" stroke-width="1.12" fill="none" />
<path d="M990.2 151.5L990.2 187" stroke="#000" stroke-width="1.12" fill="none" />
<path d="M944.3 177.6 C944.3 184 950 186.6 958 188.6 C961 191.5 966 195.6 968.8 198.6 C971 202 972.6 206 974.3 209.8 L997 209.8 C998.6 206 1000.2 202 1001.8 198.6 C1004.6 195.6 1011 191.5 1014.6 188.6 C1022 186.6 1026.6 184 1026.6 177.6" fill="#fff" stroke="#000" stroke-width="1.12" />
<ellipse cx="985.5" cy="177.4" rx="41.2" ry="4.9" fill="#fff" stroke="#000" stroke-width="1.1"/>
<path d="M946.5 179 Q985.5 185 1024.5 179" fill="none" stroke="#000" stroke-width="1.12" />
<path d="M984.8 172.6L984.8 187.6" stroke="#000" stroke-width="1.12" fill="none" />
<path d="M990.2 172.6L990.2 187.6" stroke="#000" stroke-width="1.12" fill="none" />
<path d="M958 188.4 Q985.5 190.4 1014.6 188.4" fill="none" stroke="#000" stroke-width="1.46" />
<path d="M968.8 198.8 Q985.5 200.2 1001.8 198.8" fill="none" stroke="#000" stroke-width="1.34" />
<rect x="979.7" y="211.2" width="10.6" height="18.2" fill="#fff" stroke="#000" stroke-width="1.23" />
<path d="M979.7 223.3L990.3 223.3" stroke="#000" stroke-width="1.12" fill="none" />
<rect x="985.6" y="217" width="3.4" height="3.6" fill="#000"/>
<circle cx="962" cy="224.8" r="6.8" fill="#fff" stroke="#000" stroke-width="1"/>
<text x="962" y="229.9" font-family="'Liberation Serif',serif" font-size="15.5" font-weight="bold" text-anchor="middle" >4</text>
<path d="M973.4 213.6 L976.2 217.2 L975.2 217.2 L975.2 226.4 L971.6 226.4 L971.6 217.2 L970.6 217.2 Z" fill="#fff" stroke="#000" stroke-width="1.01" />
<circle cx="1030" cy="221" r="6.8" fill="#fff" stroke="#000" stroke-width="1"/>
<text x="1030" y="226.1" font-family="'Liberation Serif',serif" font-size="15.5" font-weight="bold" text-anchor="middle" >5</text>
<path d="M990.5 219.6 L1043.6 232.6" fill="none" stroke="#000" stroke-width="1.12" />
<path d="M997.8 221.6 L1002 220.8 L1004 223 M1002 224.6 L1042.2 237.2" fill="none" stroke="#000" stroke-width="1.12" />
<path d="M1003.8 224.6 C1002.6 227.5 1003.6 230.4 1006.6 231.4 M1005.6 223.4 L1009 228.6" fill="none" stroke="#000" stroke-width="1.12" />
</svg>
</body></html>
